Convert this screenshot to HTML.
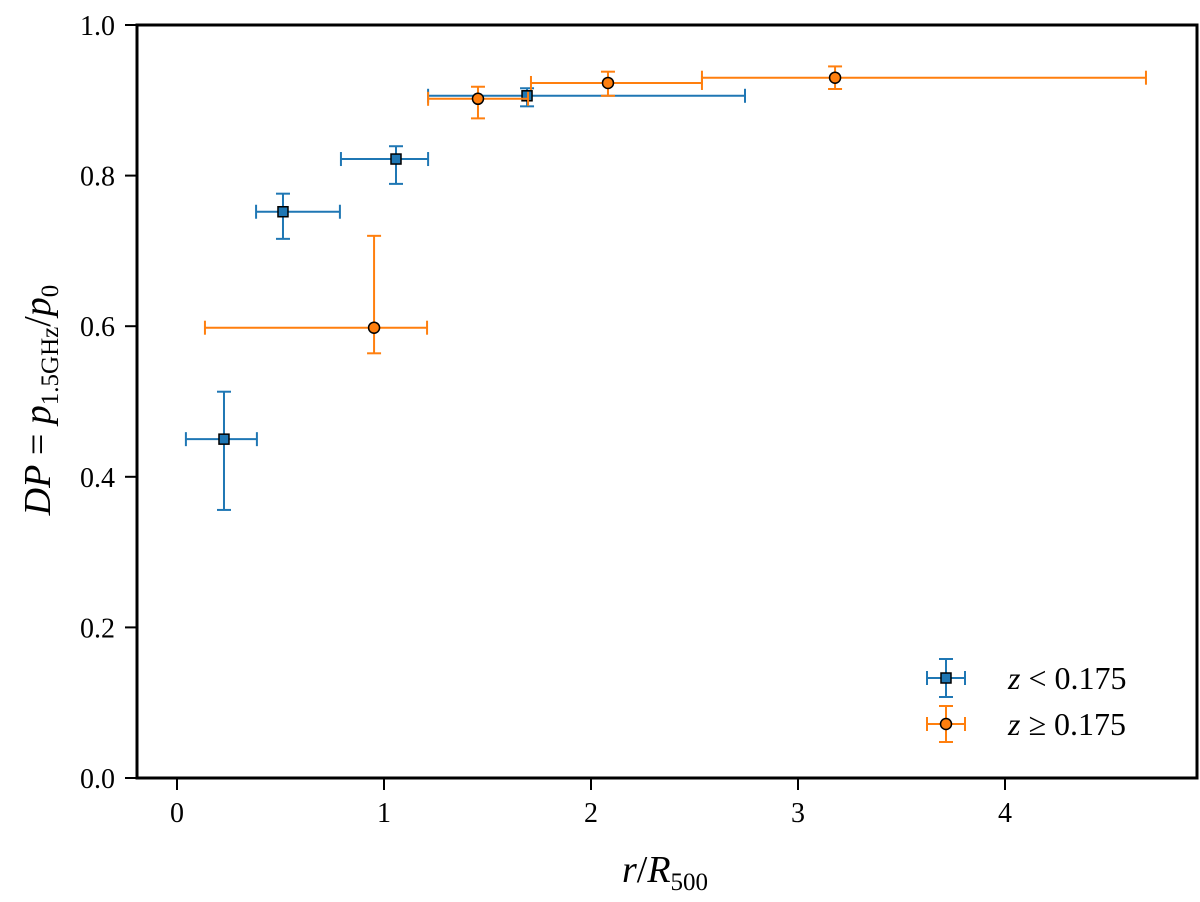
<!DOCTYPE html>
<html><head><meta charset="utf-8"><style>
body{margin:0;background:#fff}
svg text{font-family:"Liberation Serif","DejaVu Serif",serif;fill:#000}
</style></head><body>
<svg id="c" width="1200" height="897" viewBox="0 0 1200 897">
<rect x="137" y="25" width="1060" height="753" fill="none" stroke="#000" stroke-width="3"/>
<g id="ticks"></g>
<g id="marks"></g>
<text x="665" y="882" font-size="38" text-anchor="middle"><tspan font-style="italic">r</tspan>/<tspan font-style="italic">R</tspan><tspan font-size="25" dy="8">500</tspan></text>
<text transform="translate(50,400) rotate(-90)" font-size="38" text-anchor="middle"><tspan font-style="italic">DP</tspan> = <tspan font-style="italic">p</tspan><tspan font-size="25" dy="8">1.5GHz</tspan><tspan dy="-8">/</tspan><tspan font-style="italic">p</tspan><tspan font-size="25" dy="8">0</tspan></text>
<g>
<g>
<line x1="927" y1="678" x2="965" y2="678" stroke="#1f77b4" stroke-width="2"/><line x1="927" y1="671" x2="927" y2="685" stroke="#1f77b4" stroke-width="2"/><line x1="965" y1="671" x2="965" y2="685" stroke="#1f77b4" stroke-width="2"/>
<line x1="946" y1="659" x2="946" y2="697" stroke="#1f77b4" stroke-width="2"/><line x1="939" y1="659" x2="953" y2="659" stroke="#1f77b4" stroke-width="2"/><line x1="939" y1="697" x2="953" y2="697" stroke="#1f77b4" stroke-width="2"/>
<rect x="941" y="673" width="10" height="10" fill="#1f77b4" stroke="#000" stroke-width="1.5"/>
<text x="1008" y="689" font-size="32"><tspan font-style="italic">z</tspan> &lt; 0.175</text></g>
<g>
<line x1="927" y1="724" x2="965" y2="724" stroke="#ff7f0e" stroke-width="2"/><line x1="927" y1="717" x2="927" y2="731" stroke="#ff7f0e" stroke-width="2"/><line x1="965" y1="717" x2="965" y2="731" stroke="#ff7f0e" stroke-width="2"/>
<line x1="946" y1="706" x2="946" y2="742" stroke="#ff7f0e" stroke-width="2"/><line x1="939" y1="706" x2="953" y2="706" stroke="#ff7f0e" stroke-width="2"/><line x1="939" y1="742" x2="953" y2="742" stroke="#ff7f0e" stroke-width="2"/>
<circle cx="946" cy="724" r="5.5" fill="#ff7f0e" stroke="#000" stroke-width="1.5"/>
<text x="1008" y="735" font-size="32"><tspan font-style="italic">z</tspan> ≥ 0.175</text></g>
</g>
</svg>
<script>
const xTicks=[0,1,2,3,4];
const yTicks=[0.0,0.2,0.4,0.6,0.8,1.0];
const blueX=[0.227,0.512,1.058,1.691];
const blueY=[0.450,0.752,0.822,0.906];
const blueXLo=[0.043,0.382,0.792,1.213];
const blueXHi=[0.386,0.787,1.213,2.744];
const blueYLo=[0.356,0.716,0.789,0.892];
const blueYHi=[0.513,0.776,0.839,0.916];
const orangeX=[0.952,1.454,2.082,3.179];
const orangeY=[0.598,0.902,0.923,0.930];
const orangeXLo=[0.135,1.213,1.710,2.536];
const orangeXHi=[1.208,1.696,2.536,4.681];
const orangeYLo=[0.564,0.876,0.906,0.915];
const orangeYHi=[0.720,0.918,0.938,0.945];
const NS="http://www.w3.org/2000/svg";
const sx=v=>177+207*v, sy=v=>778-753*v;
function mk(tag,attrs,parent){const e=document.createElementNS(NS,tag);for(const k in attrs)e.setAttribute(k,attrs[k]);parent.appendChild(e);return e;}
const T=document.getElementById('ticks'),M=document.getElementById('marks');
xTicks.forEach(v=>{
 const l=mk('line',{x1:sx(v),x2:sx(v),y1:778,y2:790,stroke:'#000','stroke-width':2},T);
 
 
 const t=mk('text',{x:sx(v),y:822,'font-size':28,'text-anchor':'middle'},T);t.textContent=v;
 
 
});
yTicks.forEach(v=>{
 const l=mk('line',{x1:125,x2:137,y1:sy(v),y2:sy(v),stroke:'#000','stroke-width':2},T);
 
 
 const t=mk('text',{x:115,y:sy(v)+10,'font-size':28,'text-anchor':'end'},T);t.textContent=v.toFixed(1);
 
 
});
function series(X,Y,XL,XH,YL,YH,col,shape,name){
 X.forEach((x,i)=>{
  const g=mk('g',{},M);
  
  
  const y=sy(Y[i]),cx=sx(x);
  const a={stroke:col,'stroke-width':2};
  mk('line',Object.assign({x1:sx(XL[i]),x2:sx(XH[i]),y1:y,y2:y},a),g);
  mk('line',Object.assign({x1:sx(XL[i]),x2:sx(XL[i]),y1:y-7,y2:y+7},a),g);
  mk('line',Object.assign({x1:sx(XH[i]),x2:sx(XH[i]),y1:y-7,y2:y+7},a),g);
  mk('line',Object.assign({x1:cx,x2:cx,y1:sy(YL[i]),y2:sy(YH[i])},a),g);
  mk('line',Object.assign({x1:cx-7,x2:cx+7,y1:sy(YL[i]),y2:sy(YL[i])},a),g);
  mk('line',Object.assign({x1:cx-7,x2:cx+7,y1:sy(YH[i]),y2:sy(YH[i])},a),g);
  if(shape==='sq')mk('rect',{x:cx-5,y:y-5,width:10,height:10,fill:col,stroke:'#000','stroke-width':1.5},g);
  else mk('circle',{cx:cx,cy:y,r:5.5,fill:col,stroke:'#000','stroke-width':1.5},g);
 });
}
series(blueX,blueY,blueXLo,blueXHi,blueYLo,blueYHi,'#1f77b4','sq','low-z');
series(orangeX,orangeY,orangeXLo,orangeXHi,orangeYLo,orangeYHi,'#ff7f0e','ci','high-z');
</script>
</body></html>
